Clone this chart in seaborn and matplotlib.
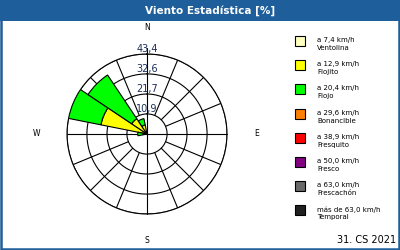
import numpy as np
import pandas as pd
import matplotlib
matplotlib.use("Agg")
import matplotlib.pyplot as plt
import seaborn as sns
from matplotlib.patches import Rectangle

# ---- data ----
directions = ["N", "NNE", "NE", "ENE", "E", "ESE", "SE", "SSE",
              "S", "SSW", "SW", "WSW", "W", "WNW", "NW", "NNW"]
ventolina = [0, 0, 0, 0, 0, 0, 0, 0, 0, 0, 0, 0, 0, 0, 0, 0]
flojito = [0, 0, 0, 0, 0, 0, 0, 0, 0, 0, 0, 0, 2.0, 25.5, 10.0, 5.0]
flojo = [0, 0, 0, 0, 0, 0, 0, 0, 0, 0, 0, 0, 3.0, 17.9, 28.5, 3.5]
bonancible = [0] * 16
fresquito = [0] * 16
fresco = [0] * 16
frescachon = [0] * 16
temporal = [0] * 16

ring_values = [10.9, 21.7, 32.6, 43.4]
ring_labels = ["10,9", "21,7", "32,6", "43,4"]
compass = ["N", "E", "S", "W"]
legend_speed = ["a 7,4 km/h", "a 12,9 km/h", "a 20,4 km/h", "a 29,6 km/h",
                "a 38,9 km/h", "a 50,0 km/h", "a 63,0 km/h", "más de 63,0 km/h"]
legend_names = ["Ventolina", "Flojito", "Flojo", "Bonancible",
                "Fresquito", "Fresco", "Frescachón", "Temporal"]
colors = ["#ffffc0", "#ffff00", "#00ff00", "#ff8000",
          "#ff0000", "#800080", "#696969", "#202020"]
title = "Viento Estadística [%]"
footer = "31. CS 2021"

series = [ventolina, flojito, flojo, bonancible, fresquito, fresco, frescachon, temporal]
df = pd.DataFrame({name: vals for name, vals in zip(legend_names, series)}, index=directions)

sns.set_theme(style="white")
plt.rcParams["font.family"] = ["DejaVu Sans"]
palette = sns.color_palette(colors)

W, H = 400, 250
fig = plt.figure(figsize=(4, 2.5), dpi=100)
fig.patch.set_facecolor("white")

blue = "#1d5e9b"
# title bar and border
fig.add_artist(Rectangle((0, (H - 21) / H), 1, 21 / H, transform=fig.transFigure,
                         facecolor=blue, edgecolor="none", zorder=0))
fig.add_artist(Rectangle((0.5 / W, 1 / H), 1 - 2 / W, 1 - 1.5 / H, transform=fig.transFigure,
                         facecolor="none", edgecolor=blue, linewidth=1.8, zorder=10))
fig.text(210 / W, 1 - 10.5 / H, title, color="white", fontsize=7.5, fontweight="bold",
         ha="center", va="center")

# polar axes: center (147,134), radius 80 px
cx, cy, R = 147, 134, 80
ax = fig.add_axes([(cx - R) / W, (H - cy - R) / H, 2 * R / W, 2 * R / H], projection="polar")
ax.set_theta_zero_location("N")
ax.set_theta_direction(-1)
ax.set_ylim(0, ring_values[-1])
ax.grid(False)
ax.set_xticks([])
ax.set_yticks([])
ax.set_facecolor("none")
ax.spines["polar"].set_linewidth(0.8)
ax.spines["polar"].set_color("black")

theta = np.deg2rad(np.arange(len(directions)) * 22.5)
width = np.deg2rad(22.5)

# grid rings
tt = np.linspace(0, 2 * np.pi, 400)
for r in ring_values:
    ax.plot(tt, np.full_like(tt, r), color="black", lw=0.8, zorder=1)
# spokes
for i, t in enumerate(theta):
    if i % 4 == 0:
        top = ring_values[-1] * 1.08 if i == 0 else ring_values[-1]
        ax.plot([t, t], [0, top], color="black", lw=0.8, zorder=1, clip_on=False)
    else:
        ax.plot([t, t], [ring_values[0], ring_values[-1]], color="black", lw=0.8, zorder=1)

# stacked bars
bottom = np.zeros(len(directions))
for name, col in zip(legend_names, palette):
    vals = df[name].to_numpy(dtype=float)
    mask = vals > 0
    if mask.any():
        ax.bar(theta[mask], vals[mask], width=width, bottom=bottom[mask], color=col,
               edgecolor="black", linewidth=0.8, zorder=3, align="center")
    bottom += vals

# ring labels
for r, lab in zip(ring_values, ring_labels):
    ax.text(0, r, lab, ha="center", va="bottom", fontsize=7, color="#1c2e5a", zorder=5,
            clip_on=False)

# compass labels
for lab in compass:
    ang = np.deg2rad({"N": 0, "E": 90, "S": 180, "W": 270}[lab])
    rr = ring_values[-1] * (58 / 43.4) * (1.03 if lab in ("E", "W") else 1.0)
    ax.text(ang, rr, lab, ha="center", va="center", fontsize=5.5, color="black",
            clip_on=False)

# legend
for i, (sp, nm, col) in enumerate(zip(legend_speed, legend_names, palette)):
    top = 36 + i * 24.2
    fig.add_artist(Rectangle((295 / W, (H - top - 10) / H), 10 / W, 10 / H,
                             transform=fig.transFigure, facecolor=col,
                             edgecolor="black", linewidth=0.8))
    fig.text(317 / W, 1 - (top + 4) / H, sp, fontsize=5, ha="left", va="center", color="black")
    fig.text(317 / W, 1 - (top + 12) / H, nm, fontsize=5, ha="left", va="center", color="black")

fig.text(396 / W, 1 - 240 / H, footer, fontsize=7, ha="right", va="center", color="black")

fig.savefig("out.png", dpi=100, facecolor="white")
